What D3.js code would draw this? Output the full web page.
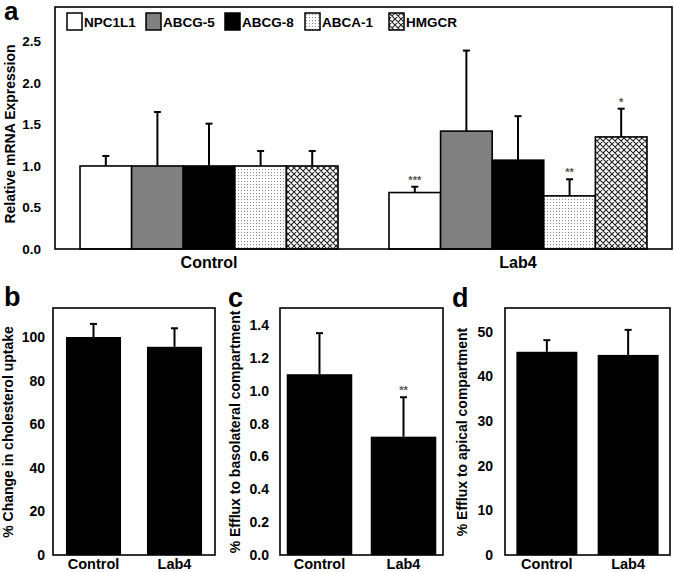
<!DOCTYPE html>
<html><head><meta charset="utf-8">
<script src="https://cdn.jsdelivr.net/npm/d3@7/dist/d3.min.js"></script>
<style>
body{margin:0;background:#fff;}
svg{display:block;font-family:"Liberation Sans",Arial,sans-serif;font-weight:bold;}
</style></head><body>
<svg id="c" width="675" height="572"></svg>
<script>
// ---- Panel a data ----
const groupsA = ["Control", "Lab4"];
const genes = ["NPC1L1", "ABCG-5", "ABCG-8", "ABCA-1", "HMGCR"];
const controlVals = [1.0, 1.0, 1.0, 1.0, 1.0];
const controlErr  = [0.12, 0.65, 0.51, 0.18, 0.18];
const lab4Vals    = [0.68, 1.42, 1.07, 0.64, 1.35];
const lab4Err     = [0.07, 0.97, 0.53, 0.20, 0.34];
const lab4Stars   = ["***", "", "", "**", "*"];
const ticksA = [0, 0.5, 1.0, 1.5, 2.0, 2.5];

// ---- Panels b, c, d data ----
const groupsBCD = ["Control", "Lab4"];
const uptakeVals = [100, 95.5];
const uptakeErr  = [6, 8.5];
const ticksB = [0, 20, 40, 60, 80, 100];
const basoVals = [1.10, 0.72];
const basoErr  = [0.25, 0.24];
const basoStars = ["", "**"];
const ticksC = [0, 0.2, 0.4, 0.6, 0.8, 1.0, 1.2, 1.4];
const apicalVals = [45.5, 44.8];
const apicalErr  = [2.6, 5.6];
const ticksD = [0, 10, 20, 30, 40, 50];

const svg = d3.select("#c");
const defs = svg.append("defs");
// dots pattern
const pd = defs.append("pattern").attr("id","dots").attr("patternUnits","userSpaceOnUse")
  .attr("width",3).attr("height",3);
pd.append("rect").attr("width",3).attr("height",3).attr("fill","#fff");
pd.append("rect").attr("x",1).attr("y",1).attr("width",1).attr("height",1).attr("fill","#888");
// crosshatch pattern
const ph = defs.append("pattern").attr("id","hatch").attr("patternUnits","userSpaceOnUse")
  .attr("width",6).attr("height",6);
ph.append("rect").attr("width",6).attr("height",6).attr("fill","#fff");
ph.append("path").attr("d","M0,0L6,6M6,0L0,6M-1,5L1,7M5,-1L7,1M5,7L7,5M-1,1L1,-1")
  .attr("stroke","#222").attr("stroke-width",1.1);

const fills = ["#fff", "#808080", "#000", "url(#dots)", "url(#hatch)"];

// ---------- Panel a ----------
const A = {l:55, r:672, t:7, b:249};
const yA = d3.scaleLinear().domain([0, 2.915]).range([A.b, A.t]);
const xA = d3.scaleBand().domain(groupsA).range([A.l, A.r]).paddingInner(0.165).paddingOuter(0.081);
const xInner = d3.scaleBand().domain(genes).range([0, xA.bandwidth()]);

const dataA = [];
groupsA.forEach((g, gi) => genes.forEach((s, si) => {
  dataA.push({g, s, si, v: gi === 0 ? controlVals[si] : lab4Vals[si],
    e: gi === 0 ? controlErr[si] : lab4Err[si], star: gi === 0 ? "" : lab4Stars[si]});
}));

const ga = svg.append("g");
ga.selectAll("line.err").data(dataA).join("line")
  .attr("x1", d => xA(d.g) + xInner(d.s) + xInner.bandwidth()/2)
  .attr("x2", d => xA(d.g) + xInner(d.s) + xInner.bandwidth()/2)
  .attr("y1", d => yA(d.v)).attr("y2", d => yA(d.v + d.e))
  .attr("stroke","#000").attr("stroke-width",2);
ga.selectAll("line.cap").data(dataA).join("line")
  .attr("x1", d => xA(d.g) + xInner(d.s) + xInner.bandwidth()/2 - 3.5)
  .attr("x2", d => xA(d.g) + xInner(d.s) + xInner.bandwidth()/2 + 3.5)
  .attr("y1", d => yA(d.v + d.e)).attr("y2", d => yA(d.v + d.e))
  .attr("stroke","#000").attr("stroke-width",2);
ga.selectAll("rect.bar").data(dataA).join("rect")
  .attr("x", d => xA(d.g) + xInner(d.s))
  .attr("y", d => yA(d.v))
  .attr("width", xInner.bandwidth())
  .attr("height", d => yA(0) - yA(d.v))
  .attr("fill", d => fills[d.si]).attr("stroke","#000").attr("stroke-width",1.6);
ga.selectAll("text.star").data(dataA.filter(d => d.star)).join("text")
  .attr("x", d => xA(d.g) + xInner(d.s) + xInner.bandwidth()/2)
  .attr("y", d => yA(d.v + d.e) - 3)
  .attr("text-anchor","middle").attr("font-size",11).attr("fill","#555")
  .text(d => d.star);
ga.append("rect").attr("x",A.l).attr("y",A.t).attr("width",A.r-A.l).attr("height",A.b-A.t)
  .attr("fill","none").attr("stroke","#000").attr("stroke-width",1.6);
const axA = ga.append("g").attr("transform",`translate(${A.l},0)`)
  .call(d3.axisLeft(yA).tickValues(ticksA).tickFormat(d3.format(".1f")).tickSize(0).tickPadding(14));
axA.select(".domain").remove();
axA.selectAll("text").attr("font-size",13.5).attr("font-family","Liberation Sans, Arial").attr("font-weight","bold").attr("fill","#000");
ga.selectAll("text.gl").data(groupsA).join("text")
  .attr("x", d => xA(d) + xA.bandwidth()/2).attr("y", 268)
  .attr("text-anchor","middle").attr("font-size",16).text(d => d);
ga.append("text").attr("transform",`translate(15,${(A.t+A.b)/2 + 6}) rotate(-90)`)
  .attr("text-anchor","middle").attr("font-size",14).text("Relative mRNA Expression");
svg.append("text").attr("x",4).attr("y",20).attr("font-size",26).text("a");

// legend
const legX = [67, 146, 225, 305, 389];
const lg = ga.selectAll("g.leg").data(genes).join("g")
  .attr("transform", (d,i) => `translate(${legX[i]},13)`);
lg.append("rect").attr("width",15).attr("height",17)
  .attr("fill",(d,i)=>fills[i]).attr("stroke","#000").attr("stroke-width",1.5);
lg.append("text").attr("x",17).attr("y",14).attr("font-size",13.5).text(d => d);

// ---------- Small panels ----------
function panel(o) {
  const g = svg.append("g");
  const y = d3.scaleLinear().domain([0, o.max]).range([555, 308]);
  const x = d3.scaleBand().domain(groupsBCD).range([o.l, o.r]).paddingInner(o.pi).paddingOuter(o.po);
  const data = groupsBCD.map((k,i) => ({k, v:o.vals[i], e:o.errs[i], s:(o.stars||[])[i]||""}));
  g.selectAll("line.err").data(data).join("line")
    .attr("x1", d => x(d.k)+x.bandwidth()/2).attr("x2", d => x(d.k)+x.bandwidth()/2)
    .attr("y1", d => y(d.v)).attr("y2", d => y(d.v+d.e)).attr("stroke","#000").attr("stroke-width",2);
  g.selectAll("line.cap").data(data).join("line")
    .attr("x1", d => x(d.k)+x.bandwidth()/2-3.5).attr("x2", d => x(d.k)+x.bandwidth()/2+3.5)
    .attr("y1", d => y(d.v+d.e)).attr("y2", d => y(d.v+d.e)).attr("stroke","#000").attr("stroke-width",2);
  g.selectAll("rect.bar").data(data).join("rect")
    .attr("x", d => x(d.k)).attr("y", d => y(d.v)).attr("width", x.bandwidth())
    .attr("height", d => y(0)-y(d.v)).attr("fill","#000");
  g.selectAll("text.star").data(data.filter(d=>d.s)).join("text")
    .attr("x", d => x(d.k)+x.bandwidth()/2).attr("y", d => y(d.v+d.e)-3)
    .attr("text-anchor","middle").attr("font-size",11).attr("fill","#555").text(d=>d.s);
  g.append("rect").attr("x",o.l).attr("y",308).attr("width",o.r-o.l).attr("height",247)
    .attr("fill","none").attr("stroke","#000").attr("stroke-width",1.6);
  const ax = g.append("g").attr("transform",`translate(${o.l},0)`)
    .call(d3.axisLeft(y).tickValues(o.ticks).tickFormat(o.fmt).tickSize(0).tickPadding(o.tp));
  ax.select(".domain").remove();
  ax.selectAll("text").attr("font-size",14).attr("font-family","Liberation Sans, Arial").attr("font-weight","bold").attr("fill","#000");
  g.selectAll("text.gl").data(groupsBCD).join("text")
    .attr("x", d => x(d)+x.bandwidth()/2).attr("y", 569)
    .attr("text-anchor","middle").attr("font-size",14.5).text(d=>d);
  g.append("text").attr("transform",`translate(${o.tx},${432}) rotate(-90)`)
    .attr("text-anchor","middle").attr("font-size",14).text(o.title);
  svg.append("text").attr("x",o.lx).attr("y",o.ly).attr("font-size",27).text(o.letter);
}
panel({l:53, r:215, max:113.3, vals:uptakeVals, errs:uptakeErr, ticks:ticksB, fmt:d3.format("d"),
  tp:8, pi:0.32, po:0.16, tx:13, title:"% Change in cholesterol uptake", letter:"b", lx:4, ly:306});
panel({l:280, r:443, max:1.503, vals:basoVals, errs:basoErr, stars:basoStars, ticks:ticksC, fmt:d3.format(".1f"),
  tp:11, pi:0.22, po:0.08, tx:240, title:"% Efflux to basolateral compartment", letter:"c", lx:228, ly:307});
panel({l:505, r:670, max:55.3, vals:apicalVals, errs:apicalErr, ticks:ticksD, fmt:d3.format("d"),
  tp:12, pi:0.25, po:0.14, tx:467, title:"% Efflux to apical compartment", letter:"d", lx:452, ly:307});
</script>
</body></html>
